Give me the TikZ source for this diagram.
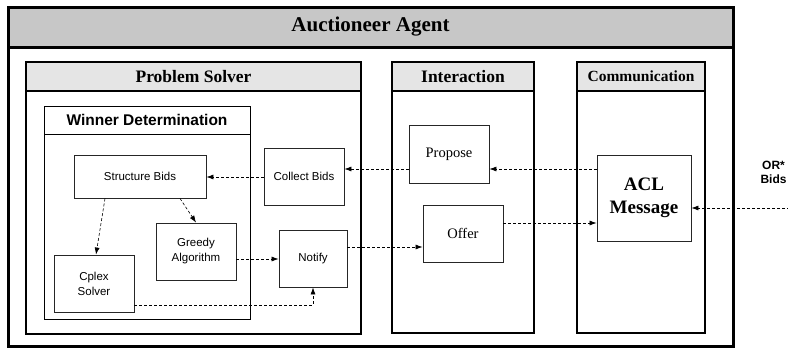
\documentclass[tikz,border=0pt]{standalone}
\usepackage{fontspec}
\setmainfont{Liberation Serif}
\setsansfont{Liberation Sans}
\usetikzlibrary{arrows.meta,calc}
\begin{document}
\begin{tikzpicture}[x=1pt,y=-1pt,
  frame/.style={draw=black,line width=1.3pt,inner sep=0pt},
  outerframe/.style={draw=black,line width=3pt,inner sep=0pt},
  hdr/.style={draw=black,line width=1.3pt,fill=black!10,inner sep=0pt,font=\bfseries},
  unit/.style={draw=black!85,line width=0.9pt,inner sep=1pt,font=\sffamily\fontsize{11.5}{15}\selectfont,align=center},
  sunit/.style={draw=black!85,line width=0.9pt,inner sep=1pt,font=\fontsize{14.5}{17}\selectfont,align=center},
  flow/.style={densely dashed,line width=0.6pt,-{Latex[length=7pt,width=5pt]}},
]
\useasboundingbox (0,0) rectangle (788,348);
\fill[white] (0,0) rectangle (788,348);

% Auctioneer agent
\node[outerframe,minimum width=725pt,minimum height=339pt] (agent) at (370.5,176.5) {};
\node[outerframe,fill=black!22,minimum width=725pt,minimum height=40pt,
      font=\bfseries\fontsize{21}{24}\selectfont] (agenthdr) at (370.5,27) {Auctioneer Agent};

% Problem solver
\node[frame,minimum width=335pt,minimum height=272pt] (ps) at (193.5,198) {};
\node[hdr,minimum width=335pt,minimum height=29pt,font=\bfseries\fontsize{17.5}{20}\selectfont] (pshdr) at (193.5,76.5) {Problem Solver};

% Interaction
\node[frame,minimum width=142pt,minimum height=271pt] (ia) at (463,197.5) {};
\node[hdr,minimum width=142pt,minimum height=29pt,font=\bfseries\fontsize{17.5}{20}\selectfont] (iahdr) at (463,76.5) {Interaction};

% Communication
\node[frame,minimum width=128pt,minimum height=271pt] (cm) at (641,197.5) {};
\node[hdr,minimum width=128pt,minimum height=29pt,font=\bfseries\fontsize{15.5}{18}\selectfont] (cmhdr) at (641,76.5) {Communication};

% Winner determination
\node[frame,line width=1pt,minimum width=206pt,minimum height=213pt] (wd) at (147,212.5) {};
\node[frame,line width=1pt,minimum width=206pt,minimum height=28pt,
      font=\sffamily\bfseries\fontsize{15.5}{18}\selectfont] (wdhdr) at (147,120) {Winner Determination};

% Processing units
\node[unit,minimum width=132pt,minimum height=43pt] (sb) at (140,176.5) {Structure Bids};
\node[unit,minimum width=80pt,minimum height=57pt] (cb) at (304,176.5) {Collect Bids};
\node[unit,minimum width=80pt,minimum height=57pt] (ga) at (196,251.5) {Greedy\\Algorithm};
\node[unit,minimum width=80pt,minimum height=57pt] (cs) at (94,283.5) {Cplex\\Solver};
\node[unit,minimum width=68pt,minimum height=57pt] (nt) at (313,258.5) {Notify};
\node[sunit,minimum width=80pt,minimum height=58pt] (pr) at (449,154) {Propose};
\node[sunit,minimum width=80pt,minimum height=57pt] (of) at (463,233.5) {Offer};
\node[sunit,minimum width=94pt,minimum height=86pt,font=\bfseries\fontsize{19}{23}\selectfont] (acl) at (644,198) {ACL\\Message};

% Incoming bids from outside
\node[font=\sffamily\bfseries\fontsize{12}{14}\selectfont,align=center,inner sep=0pt] (orbids) at (773.5,172.5) {OR*\\Bids};
\coordinate (ext) at (800,208);

% Message flow
\draw[flow] (ext) -- (acl.east |- ext);
\draw[flow] (acl.west |- 0,169) -- (pr.east |- 0,169);
\draw[flow] (pr.west |- 0,169) -- (cb.east |- 0,169);
\draw[flow] (cb.west |- 0,177) -- (sb.east |- 0,177);
\draw[flow] (sb.south -| 105,0) -- (cs.north -| 96,0);
\draw[flow] (sb.south -| 180,0) -- (ga.north -| 196,0);
\draw[flow] (ga.east |- 0,259) -- (nt.west |- 0,259);
\draw[flow] (cs.east |- 0,305) -| (nt.south);
\draw[flow] (nt.east |- 0,247) -- (of.west |- 0,247);
\draw[flow] (of.east |- 0,223) -- (acl.west |- 0,223);
\end{tikzpicture}
\end{document}
